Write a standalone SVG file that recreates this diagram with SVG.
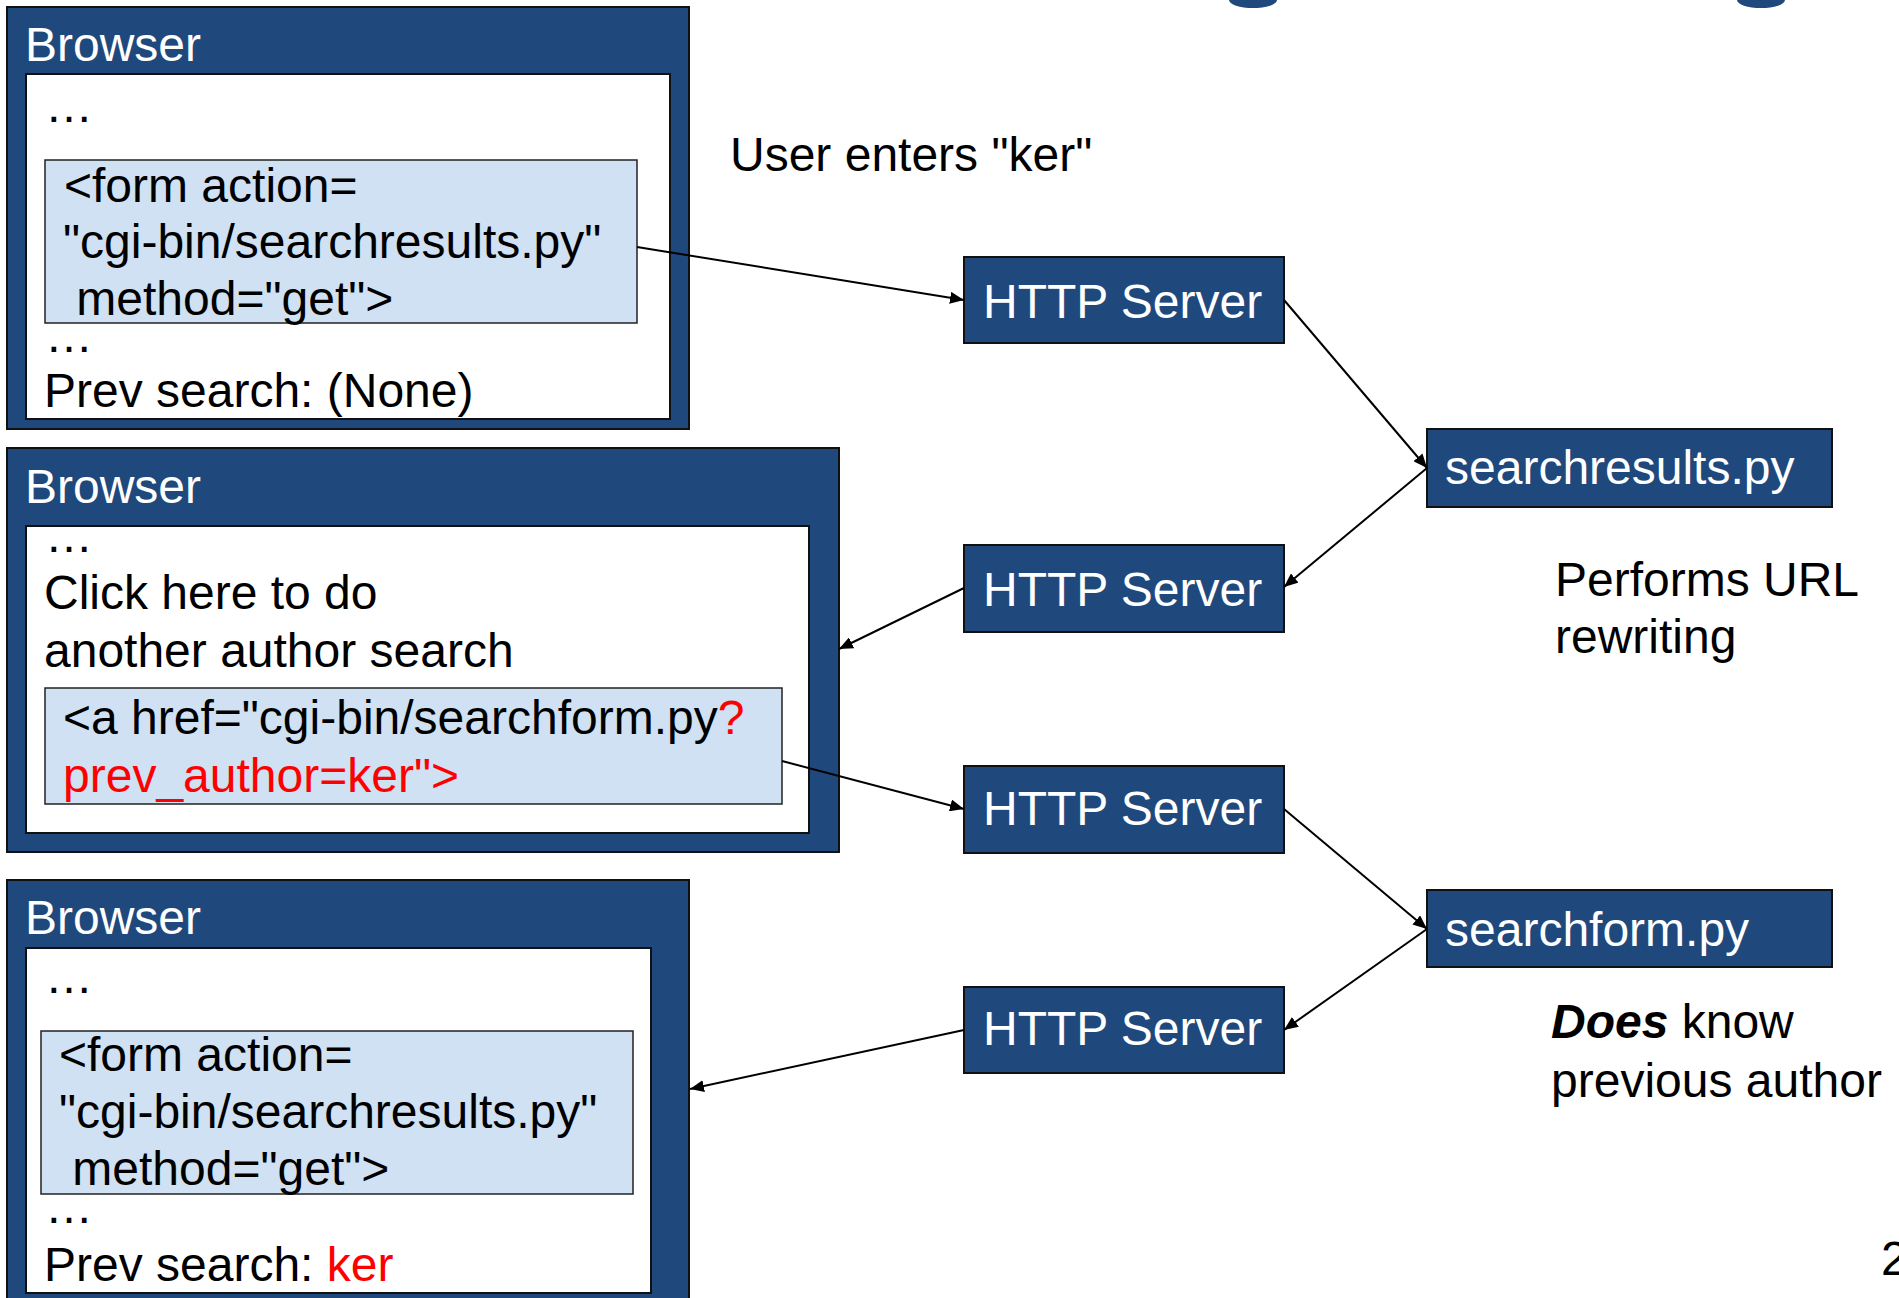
<svg xmlns="http://www.w3.org/2000/svg" width="1899" height="1298" viewBox="0 0 1899 1298">
<style>
text { font-family: "Liberation Sans", Arial, sans-serif; font-size: 48px; fill: #000; }
.outer { fill: #1f497d; stroke: #111; stroke-width: 2; }
.inner { fill: #fff; stroke: #111; stroke-width: 2; }
.code { fill: #cfe1f3; stroke: #222; stroke-width: 1.5; }
.node { fill: #1f497d; stroke: #111; stroke-width: 2; }
.wt { fill: #fff; }
.red { fill: #ff0000; }
.conn line { stroke: #000; stroke-width: 2; fill: none; marker-end: url(#ah); }
</style>
<defs>
<marker id="ah" markerUnits="userSpaceOnUse" markerWidth="16" markerHeight="12" refX="14" refY="6" orient="auto">
<path d="M0,0 L14,6 L0,12 Z" fill="#000"/>
</marker>
</defs>
<rect width="1899" height="1298" fill="#fff"/>
<path d="M1229,0 A24,8 0 0 0 1277,0 Z" fill="#1f497d"/>
<path d="M1737,0 A24,8 0 0 0 1785,0 Z" fill="#1f497d"/>

<g id="browser1">
<rect class="outer" x="7" y="7" width="682" height="422"/>
<text class="wt" x="25" y="61">Browser</text>
<rect class="inner" x="26" y="74" width="644" height="345"/>
<text x="45" y="122">…</text>
<rect class="code" x="45" y="160" width="592" height="163"/>
<text x="64" y="202">&lt;form action=</text>
<text x="63" y="258">"cgi-bin/searchresults.py"</text>
<text x="63" y="315" xml:space="preserve"> method="get"&gt;</text>
<text x="45" y="352">…</text>
<text x="44" y="407">Prev search: (None)</text>
</g>

<g id="browser2">
<rect class="outer" x="7" y="448" width="832" height="404"/>
<text class="wt" x="25" y="503">Browser</text>
<rect class="inner" x="26" y="526" width="783" height="307"/>
<text x="45" y="552">…</text>
<text x="44" y="609">Click here to do</text>
<text x="44" y="667">another author search</text>
<rect class="code" x="45" y="688" width="737" height="116"/>
<text x="63" y="734">&lt;a href="cgi-bin/searchform.py<tspan class="red">?</tspan></text>
<text x="63" y="792" class="red">prev_author=ker"&gt;</text>
</g>

<g id="browser3">
<rect class="outer" x="7" y="880" width="682" height="430"/>
<text class="wt" x="25" y="934">Browser</text>
<rect class="inner" x="26" y="948" width="625" height="345"/>
<text x="45" y="993">…</text>
<rect class="code" x="41" y="1031" width="592" height="163"/>
<text x="59" y="1071">&lt;form action=</text>
<text x="59" y="1128">"cgi-bin/searchresults.py"</text>
<text x="59" y="1185" xml:space="preserve"> method="get"&gt;</text>
<text x="45" y="1223">…</text>
<text x="44" y="1281">Prev search: <tspan class="red">ker</tspan></text>
</g>

<g id="http1">
<rect class="node" x="964" y="257" width="320" height="86"/>
<text class="wt" x="983" y="318">HTTP Server</text>
</g>
<g id="http2">
<rect class="node" x="964" y="545" width="320" height="87"/>
<text class="wt" x="983" y="606">HTTP Server</text>
</g>
<g id="http3">
<rect class="node" x="964" y="766" width="320" height="87"/>
<text class="wt" x="983" y="825">HTTP Server</text>
</g>
<g id="http4">
<rect class="node" x="964" y="987" width="320" height="86"/>
<text class="wt" x="983" y="1045">HTTP Server</text>
</g>
<g id="searchresults">
<rect class="node" x="1427" y="429" width="405" height="78"/>
<text class="wt" x="1445" y="484">searchresults.py</text>
</g>
<g id="searchform">
<rect class="node" x="1427" y="890" width="405" height="77"/>
<text class="wt" x="1445" y="946">searchform.py</text>
</g>

<g id="labels">
<text x="730" y="171">User enters "ker"</text>
<text x="1555" y="596">Performs URL</text>
<text x="1555" y="653">rewriting</text>
<text x="1551" y="1038"><tspan font-weight="bold" font-style="italic">Does</tspan> know</text>
<text x="1551" y="1097">previous author</text>
<text x="1881" y="1275" font-size="64">2</text>
</g>

<g class="conn" id="connectors">
<line x1="637" y1="247" x2="964" y2="300"/>
<line x1="1284" y1="300" x2="1427" y2="468"/>
<line x1="1427" y1="468" x2="1284" y2="587"/>
<line x1="964" y1="588" x2="839" y2="649"/>
<line x1="782" y1="761" x2="964" y2="809"/>
<line x1="1284" y1="809" x2="1427" y2="929"/>
<line x1="1427" y1="929" x2="1284" y2="1030"/>
<line x1="964" y1="1030" x2="690" y2="1089"/>
</g>
</svg>
